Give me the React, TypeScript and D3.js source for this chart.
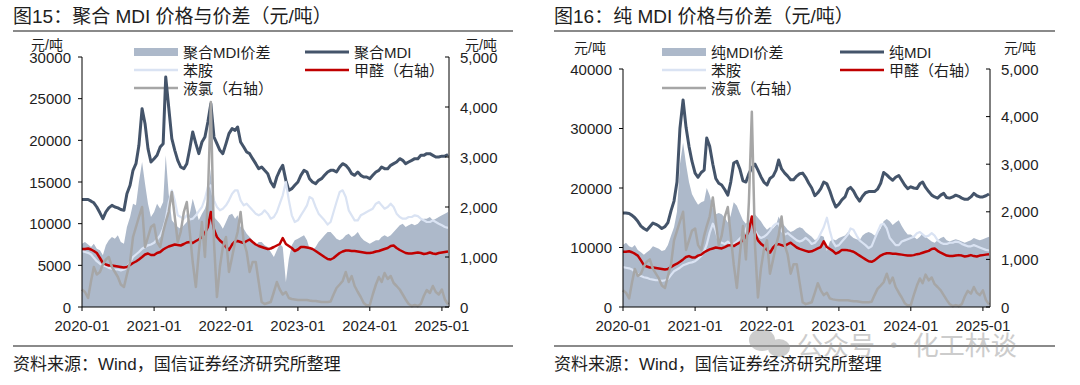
import React from "react";
import * as d3 from "d3";

// semi-monthly readings (1st and 16th of each month), 2020-01-01 .. 2025-02-01
const nPoints = 123;
const dates = d3.range(nPoints).map(
  (i) => new Date(2020 + Math.floor(i / 24), Math.floor(i / 2) % 12, i % 2 ? 16 : 1)
);

// shared raw materials
const aniline = [
  6700, 6600, 6500, 6300, 5900, 5500, 5200, 5000, 4900, 4700, 4600, 4500,
  4500, 4400, 4500, 4700, 5400, 6000, 6300, 6600, 7000, 7200, 7400, 7500,
  7700, 8100, 8600, 9400, 10500, 12500, 14000, 12800, 11000, 10800, 10600, 11000,
  10500, 10600, 11000, 11500, 12000, 13000, 14400, 14600, 12800, 12000, 11600, 11800,
  12200, 12800, 13600, 14000, 14000, 12800, 12200, 12400, 12000, 11600, 11200, 11000,
  11200, 11600, 11200, 10600, 10800, 11400, 12400, 13400, 15000, 12800, 11000, 10200,
  10400, 11000, 11600, 12200, 13200, 13000, 12000, 11200, 10800, 10400, 9900, 10200,
  11400, 12600, 13800, 14000, 13200, 11600, 11000, 10400, 10400, 11000, 11200, 11400,
  11600, 11800, 12400, 12600, 12200, 11800, 12000, 12400, 12000, 11200, 10800, 10600,
  10600, 10800, 10800, 11000, 10900, 10600, 10400, 10200, 10200, 10400, 10200, 10000,
  9800, 9600, 9500,
];

const formaldehyde = [
  1160, 1160, 1170, 1150, 1120, 1080, 980, 880, 850, 830, 830, 820,
  810, 800, 790, 800, 840, 880, 910, 950, 1000, 1050, 1070, 1040,
  1040, 1080, 1100, 1150, 1180, 1210, 1230, 1250, 1240, 1230, 1260, 1290,
  1300, 1280, 1320, 1350, 1400, 1480, 1600, 1900, 1550, 1400, 1330, 1280,
  1200, 1140, 1250, 1310, 1320, 1300, 1280, 1320, 1350, 1300, 1250, 1220,
  1200, 1180, 1160, 1170, 1200, 1230, 1260, 1380, 1260, 1220, 1180, 1120,
  1150, 1200, 1200, 1190, 1180, 1160, 1120, 1080, 1040, 1000, 960, 950,
  980, 1030, 1080, 1110, 1130, 1130, 1120, 1120, 1110, 1100, 1090, 1080,
  1080, 1090, 1110, 1120, 1140, 1160, 1180, 1220, 1230, 1180, 1140, 1110,
  1080, 1070, 1070, 1080, 1090, 1080, 1060, 1070, 1090, 1070, 1060, 1080,
  1090, 1100, 1110,
];

const chlorine = [
  350, 300, 180, 520, 800, 650, 700, 850, 950, 1000, 800, 700,
  600, 450, 400, 650, 900, 1400, 1600, 1800, 2000, 1200, 1400, 1600,
  1650, 1300, 1200, 1500, 1700, 1900, 2300, 1800, 1300, 1500, 1900, 2100,
  1500, 900, 400, 1100, 1700, 1000, 2200, 4100, 1300, 200, 800, 1200,
  1400, 700, 1000, 1300, 1500, 1900, 1300, 1100, 700, 900, 900, 500,
  100, 60, 80, 100, 300, 500, 350, 250, 300, 180, 160, 150,
  140, 140, 140, 140, 130, 120, 120, 110, 100, 100, 100, 110,
  250, 380, 450, 520, 700, 500, 620, 420, 300, 200, 80, 30,
  40, 250, 450, 600, 500, 680, 560, 620, 480, 420, 350, 250,
  150, 60, 20, 40, 20, 60, 220, 340, 280, 420, 300, 250,
  350, 150, 50,
];

// polymeric MDI
const polyMdi = [
  12900, 12900, 12900, 12700, 12500, 12000, 11300, 10600, 11400, 11900, 12200, 12000,
  11900, 11700, 11600, 13600, 14600, 16400, 17200, 19400, 23800, 22000, 19000, 17400,
  17800, 18200, 19200, 19600, 27600, 24000, 20200, 18800, 17600, 16800, 16600, 17200,
  19000, 21000, 19600, 18400, 19800, 20400, 22200, 24400, 20400, 19600, 18800, 18400,
  19600, 20800, 21400, 21200, 21600, 19800, 19200, 18600, 18400, 17800, 17200, 16600,
  16800, 16400, 16000, 15000, 14400, 15600, 16400, 17000, 15200, 14000, 14200, 14600,
  15000, 15800, 16400, 16200, 15400, 15000, 14800, 15200, 15400, 15800, 16200, 16400,
  16400, 16200, 16800, 17200, 17000, 16600, 16000, 15800, 16200, 15800, 15600, 15600,
  15400, 15800, 16200, 16400, 16800, 16600, 16600, 17000, 17200, 17400, 17800, 17600,
  17200, 17400, 17600, 17800, 17800, 18200, 18200, 18400, 18400, 18200, 18000, 18000,
  18100, 18100, 18300,
];

const polySpread = [
  7600, 7800, 7500, 7200, 7600, 7000, 6800, 6200, 7400, 8000, 8400, 8200,
  8600, 7800, 7600, 9600, 10800, 12400, 12200, 15000, 17400, 14800, 12400, 10800,
  11400, 12400, 11800, 12600, 18200, 13600, 10400, 10000, 9600, 9400, 9800, 10200,
  11200, 13000, 11600, 10400, 11200, 11800, 13000, 16600, 10800, 10400, 10000, 9400,
  10200, 11000, 11200, 10600, 11000, 9600, 9400, 8800, 8400, 8000, 7400, 7800,
  7800, 7400, 7200, 6600, 6000, 6800, 7600, 7200, 3000, 5800, 7400, 8000,
  8200, 8400, 8600, 8000, 7000, 6800, 7200, 7800, 8200, 8600, 9000, 9000,
  8600, 8200, 8000, 8200, 8600, 8800, 8400, 8600, 9000, 8400, 8000, 7800,
  7600, 7800, 8000, 8000, 8400, 8600, 8400, 8600, 9000, 9400, 9800, 10000,
  9600, 9800, 10000, 9800, 10000, 10400, 10600, 10600, 10800, 10400, 10600, 10800,
  11000, 11200, 11400,
];

// pure MDI
const pureMdi = [
  15800, 15800, 15700, 15400, 15000, 14400, 13600, 13200, 12900, 13500, 14100, 13900,
  13600, 13200, 13500, 14200, 16200, 17800, 21000, 30000, 34800, 30200, 27000, 24500,
  22500, 21800, 22600, 23000, 28400, 27000, 24000, 21600, 20800, 20500, 19700, 18800,
  21000, 24200, 24500, 23200, 21200, 21000, 22400, 23400, 24000, 23000, 21900, 21000,
  20500, 21600, 22000, 23000, 24700, 23200, 22500, 22000, 21400, 21400, 22000, 22400,
  22500, 21800, 20800, 20000, 18700, 19200, 19900, 21000, 20700, 19500, 18000, 16800,
  17300, 18000, 18500, 19800, 20100, 19500, 18500, 17800, 18600, 19200, 19400, 19400,
  19400, 19800, 20800, 22600, 22200, 21700, 21300, 21800, 22100, 21300, 20500, 19900,
  20200, 20000, 19900, 20700, 21000, 20100, 19400, 18800, 18500, 18300, 18800, 19100,
  18400, 18300, 18500, 18800, 18600, 18300, 18100, 18100, 18500, 19100, 18700, 18500,
  18500, 18700, 19000,
];

const pureSpread = [
  10400, 10800, 10200, 10000, 10400, 9600, 9200, 8800, 9200, 9600, 10200, 10000,
  9800, 9400, 9600, 10400, 12000, 13400, 16000, 24000, 27600, 24000, 21000, 19000,
  18000, 17200, 17600, 17800, 20000, 18800, 16600, 15600, 15800, 15600, 15000, 14200,
  15400, 17600, 17000, 15800, 14600, 14000, 14400, 15200, 15600, 15000, 14400, 13600,
  13000, 13400, 13200, 13800, 15200, 14200, 13600, 13000, 12600, 12800, 13200, 13400,
  13200, 12600, 12200, 11800, 11200, 11600, 12000, 11800, 9400, 11000, 11400, 11200,
  11600, 11800, 12000, 12600, 12000, 11600, 11400, 11200, 12000, 12400, 12600, 12400,
  12000, 12400, 13200, 14400, 14800, 14400, 13800, 14200, 14600, 13600, 12800, 12200,
  12200, 11800, 11400, 11800, 12400, 11800, 11400, 11000, 10800, 11200, 11600, 11800,
  11200, 11000, 11200, 11400, 11200, 11000, 10800, 11000, 11200, 11600, 11400, 11200,
  11400, 11600, 11800,
];

const rightTicks = [0, 1000, 2000, 3000, 4000, 5000];

const FONT = "'Liberation Sans', Arial, 'Noto Sans CJK SC', sans-serif";
const INK = "#1e1e1e";
const COLORS = {
  mdi: "#44546a",
  spread: "#adb9ca",
  aniline: "#dae3f3",
  hcho: "#c00000",
  cl2: "#a6a6a6",
};

const panels = [
  {
    key: "poly",
    title: "图15：聚合 MDI 价格与价差（元/吨）",
    left: 13,
    ruleEnd: 513,
    x0: 82,
    x1: 449,
    top: 57,
    leftMax: 30000,
    leftStep: 5000,
    unitY: 45,
    unitLX: 47,
    unitRX: 481,
    mdi: polyMdi,
    spread: polySpread,
    mdiName: "聚合MDI",
    spreadName: "聚合MDI价差",
    legA: 134,
    legAText: 183,
    legB: 305,
    legBText: 354,
  },
  {
    key: "pure",
    title: "图16：纯 MDI 价格与价差（元/吨）",
    left: 554,
    ruleEnd: 1055,
    x0: 623,
    x1: 990,
    top: 69,
    leftMax: 40000,
    leftStep: 10000,
    unitY: 48,
    unitLX: 590,
    unitRX: 1020,
    mdi: pureMdi,
    spread: pureSpread,
    mdiName: "纯MDI",
    spreadName: "纯MDI价差",
    legA: 662,
    legAText: 711,
    legB: 840,
    legBText: 889,
  },
];

const BOTTOM = 307;

function Panel({ p }) {
  const x = d3
    .scaleTime()
    .domain([new Date(2020, 0, 1), new Date(2025, 1, 6)])
    .range([p.x0, p.x1]);
  const yL = d3.scaleLinear().domain([0, p.leftMax]).range([BOTTOM, p.top]);
  const yR = d3.scaleLinear().domain([0, 5000]).range([BOTTOM, p.top]);

  const area = d3
    .area<number>()
    .x((d, i) => x(dates[i]))
    .y0(yL(0))
    .y1((d) => yL(d));
  const lineL = d3
    .line<number>()
    .x((d, i) => x(dates[i]))
    .y((d) => yL(d));
  const lineR = d3
    .line<number>()
    .x((d, i) => x(dates[i]))
    .y((d) => yR(d));

  const leftTicks = d3.range(0, p.leftMax + 1, p.leftStep);
  const years = d3.timeYear.range(new Date(2020, 0, 1), new Date(2025, 0, 2));
  const fmtR = (v) => (v === 0 ? "0" : d3.format(",")(v));

  const rowY = [52, 70, 88];
  const legLen = 44;

  return (
    <g fontFamily={FONT} fill={INK}>
      <text x={p.left} y={23} fontSize={19}>
        {p.title}
      </text>
      <line x1={p.left} x2={p.ruleEnd} y1={31} y2={31} stroke="#8a8a8a" strokeWidth={2} />
      <line x1={p.left} x2={p.ruleEnd} y1={346} y2={346} stroke="#8a8a8a" strokeWidth={2} />
      <text x={p.left} y={370} fontSize={17}>
        资料来源：Wind，国信证券经济研究所整理
      </text>

      {/* units */}
      <text x={p.unitLX} y={p.unitY} fontSize={14} textAnchor="middle" dominantBaseline="central">
        元/吨
      </text>
      <text x={p.unitRX} y={p.unitY} fontSize={14} textAnchor="middle" dominantBaseline="central">
        元/吨
      </text>

      {/* legend */}
      <rect x={p.legA} y={rowY[0] - 4} width={legLen} height={8} fill={COLORS.spread} />
      <line x1={p.legA} x2={p.legA + legLen} y1={rowY[1]} y2={rowY[1]} stroke={COLORS.aniline} strokeWidth={2.5} />
      <line x1={p.legA} x2={p.legA + legLen} y1={rowY[2]} y2={rowY[2]} stroke={COLORS.cl2} strokeWidth={2.5} />
      <line x1={p.legB} x2={p.legB + legLen} y1={rowY[0]} y2={rowY[0]} stroke={COLORS.mdi} strokeWidth={3} />
      <line x1={p.legB} x2={p.legB + legLen} y1={rowY[1]} y2={rowY[1]} stroke={COLORS.hcho} strokeWidth={2.5} />
      <g fontSize={15} dominantBaseline="central">
        <text x={p.legAText} y={rowY[0]}>{p.spreadName}</text>
        <text x={p.legAText} y={rowY[1]}>苯胺</text>
        <text x={p.legAText} y={rowY[2]}>液氯（右轴）</text>
        <text x={p.legBText} y={rowY[0]}>{p.mdiName}</text>
        <text x={p.legBText} y={rowY[1]}>甲醛（右轴）</text>
      </g>

      {/* series */}
      <path d={area(p.spread)} fill={COLORS.spread} />
      <path d={lineL(p.mdi)} fill="none" stroke={COLORS.mdi} strokeWidth={3} strokeLinejoin="round" />
      <path d={lineL(aniline)} fill="none" stroke={COLORS.aniline} strokeWidth={2.2} strokeLinejoin="round" />
      <path d={lineR(formaldehyde)} fill="none" stroke={COLORS.hcho} strokeWidth={2.5} strokeLinejoin="round" />
      <path d={lineR(chlorine)} fill="none" stroke={COLORS.cl2} strokeWidth={2.5} strokeLinejoin="round" />

      {/* axes */}
      <g stroke="#000" strokeWidth={1}>
        <line x1={p.x0} x2={p.x0} y1={p.top} y2={BOTTOM} />
        <line x1={p.x1} x2={p.x1} y1={p.top} y2={BOTTOM} />
        <line x1={p.x0} x2={p.x1} y1={BOTTOM} y2={BOTTOM} />
        {leftTicks.map((t) => (
          <line key={"l" + t} x1={p.x0 - 4} x2={p.x0} y1={yL(t)} y2={yL(t)} />
        ))}
        {rightTicks.map((t) => (
          <line key={"r" + t} x1={p.x1 - 4} x2={p.x1} y1={yR(t)} y2={yR(t)} />
        ))}
        {years.map((d) => (
          <line key={"x" + d.getFullYear()} x1={x(d)} x2={x(d)} y1={BOTTOM} y2={BOTTOM + 4} />
        ))}
      </g>
      <g fontSize={15} dominantBaseline="central">
        {leftTicks.map((t) => (
          <text key={"lt" + t} x={p.x0 - 11} y={yL(t)} textAnchor="end">
            {t}
          </text>
        ))}
        {rightTicks.map((t) => (
          <text key={"rt" + t} x={p.x1 + 11} y={yR(t)}>
            {fmtR(t)}
          </text>
        ))}
        {years.map((d) => (
          <text key={"xt" + d.getFullYear()} x={x(d)} y={325} textAnchor="middle">
            {d3.timeFormat("%Y-%m")(d)}
          </text>
        ))}
      </g>
    </g>
  );
}

export default function App() {
  return (
    <svg
      width={1080}
      height={385}
      viewBox="0 0 1080 385"
      style={{ position: "absolute", left: 0, top: 0, background: "#fff" }}
    >
      <rect width={1080} height={385} fill="#fff" />
      {panels.map((p) => (
        <Panel key={p.key} p={p} />
      ))}
      {/* watermark */}
      <g opacity={0.5} fill="#9a9a9a">
        <ellipse cx={762} cy={340} rx={13} ry={11} />
        <ellipse cx={779} cy={348} rx={11} ry={9} />
        <text x={797} y={355} fontSize={26} fontFamily="'Noto Sans CJK SC', sans-serif">
          公众号 · 化工林谈
        </text>
      </g>
    </svg>
  );
}
